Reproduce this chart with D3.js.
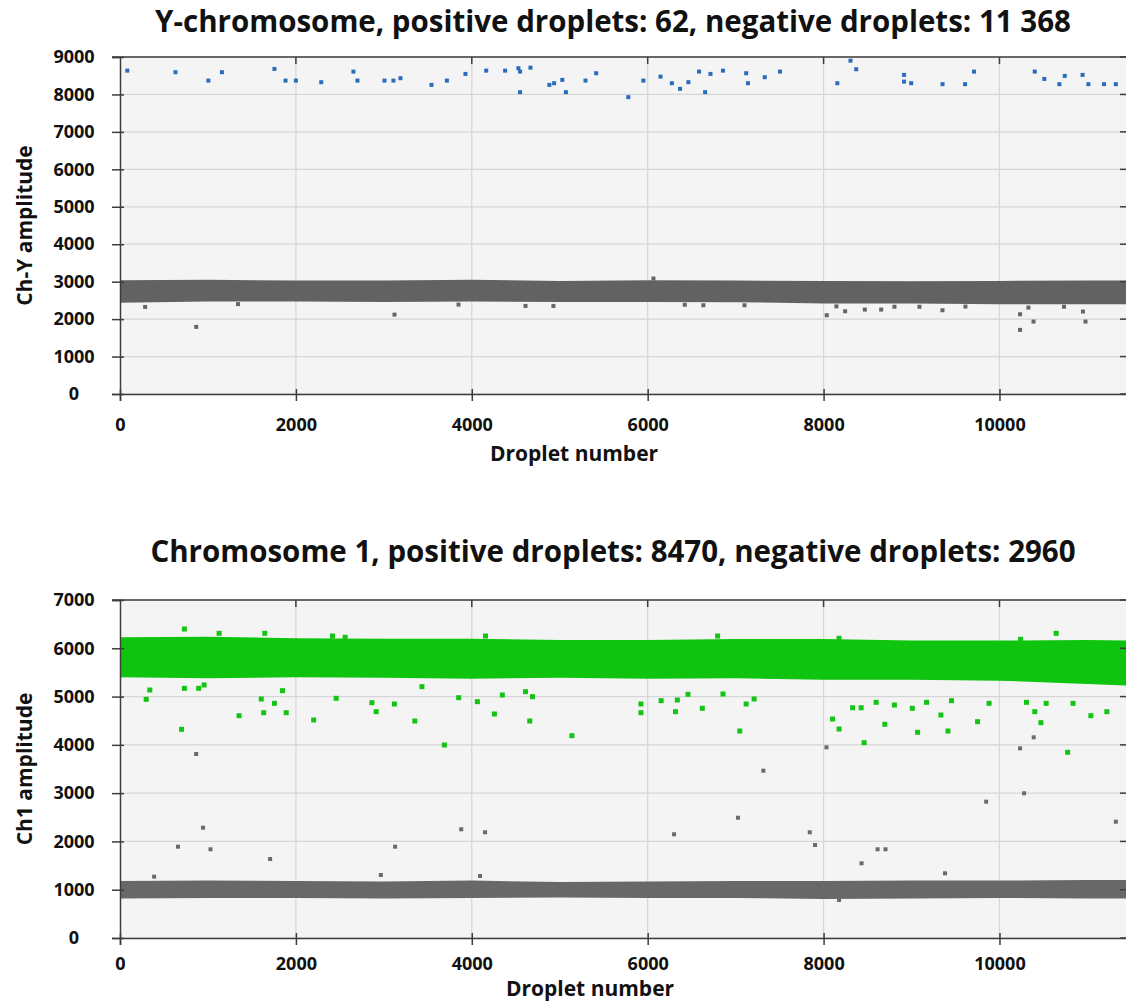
<!DOCTYPE html>
<html>
<head>
<meta charset="utf-8">
<script src="https://cdn.jsdelivr.net/npm/d3@7"></script>
<style>
  body { margin: 0; background: #fff; }
  text { font-family: "Open Sans", sans-serif; font-weight: 700; fill: #111; }
</style>
</head>
<body>
<div id="vis"></div>
<script>
// ---- data ----
const dropletMax = 11450;
const xTicks = [0, 2000, 4000, 6000, 8000, 10000];

// Ch-Y panel
const chYTitle = "Y-chromosome, positive droplets: 62, negative droplets: 11 368";
const chYTicks = [0, 1000, 2000, 3000, 4000, 5000, 6000, 7000, 8000, 9000];
// positive droplets [droplet, amplitude]
const chYPositive = [
  [83, 8636], [631, 8594], [1005, 8370], [1159, 8594], [1756, 8681], [1882, 8370],
  [2000, 8370], [2288, 8327], [2654, 8610], [2700, 8370], [3007, 8370], [3109, 8370],
  [3189, 8434], [3542, 8255], [3717, 8370], [3928, 8548], [4164, 8636], [4379, 8636],
  [4530, 8700], [4549, 8610], [4667, 8716], [4549, 8061], [4882, 8255], [4936, 8300],
  [5029, 8389], [5070, 8061], [5293, 8370], [5414, 8567], [5780, 7928], [5951, 8370],
  [6146, 8476], [6275, 8300], [6368, 8149], [6463, 8327], [6584, 8610], [6653, 8061],
  [6714, 8548], [6856, 8636], [7120, 8567], [7140, 8300], [7331, 8460], [7505, 8610],
  [8156, 8300], [8306, 8902], [8371, 8673], [8915, 8522], [8915, 8343], [8996, 8300],
  [9352, 8274], [9609, 8274], [9711, 8610], [10401, 8610], [10510, 8415], [10681, 8274],
  [10742, 8495], [10945, 8522], [11011, 8274], [11189, 8274], [11323, 8274]
];
// dense negative cluster: envelope
const chYBandX  = [0, 1000, 2000, 3000, 4000, 5000, 6000, 7000, 8000, 9000, 10000, 11000, 11450];
const chYBandHi = [3040, 3050, 3030, 3030, 3050, 3020, 3040, 3030, 3020, 3010, 3020, 3030, 3030];
const chYBandLo = [2440, 2470, 2470, 2460, 2470, 2460, 2460, 2450, 2420, 2420, 2400, 2400, 2400];
// negative droplets outside the dense cluster
const chYNegative = [
  [286, 2325], [867, 1792], [1342, 2400], [3121, 2120], [3849, 2388], [4611, 2352],
  [4928, 2352], [6065, 3084], [6422, 2383], [6633, 2370], [7101, 2370], [8036, 2104],
  [8146, 2340], [8245, 2210], [8469, 2255], [8655, 2255], [8806, 2330], [9090, 2330],
  [9352, 2237], [9613, 2335], [10234, 2130], [10234, 1712], [10387, 1935], [10329, 2308],
  [10978, 1935], [10949, 2202], [10734, 2330]
];

// Ch1 panel
const ch1Title = "Chromosome 1, positive droplets: 8470, negative droplets: 2960";
const ch1Ticks = [0, 1000, 2000, 3000, 4000, 5000, 6000, 7000];
const ch1BandX  = [0, 1000, 2000, 3000, 4000, 5000, 6000, 7000, 8000, 9000, 10000, 11000, 11450];
const ch1PosHi  = [6230, 6240, 6210, 6200, 6200, 6170, 6170, 6190, 6190, 6160, 6160, 6170, 6160];
const ch1PosLo  = [5400, 5380, 5400, 5390, 5370, 5390, 5370, 5380, 5350, 5350, 5330, 5260, 5230];
const ch1NegHi  = [1180, 1190, 1180, 1170, 1190, 1160, 1170, 1180, 1180, 1190, 1190, 1200, 1200];
const ch1NegLo  = [820, 830, 830, 820, 830, 840, 830, 830, 810, 820, 830, 820, 820];
const ch1Positive = [
  [298, 4943], [339, 5136], [732, 5171], [700, 4322], [732, 6399], [895, 5171],
  [956, 5240], [1127, 6310], [1354, 4604], [1606, 4950], [1634, 4666], [1756, 4860],
  [1890, 4666], [1848, 5122], [1646, 6310], [2202, 4515], [2458, 4964], [2416, 6254],
  [2560, 6228], [2864, 4873], [2913, 4687], [3120, 4846], [3352, 4494], [3688, 3997],
  [3851, 4977], [4063, 4894], [4156, 6254], [4257, 4639], [4347, 5032], [4659, 4494],
  [4611, 5101], [4690, 4998], [3433, 5205], [5138, 4190], [5923, 4846], [5923, 4666],
  [6153, 4915], [6316, 4687], [6337, 4929], [6458, 5047], [6621, 4757], [6795, 6254],
  [6856, 5053], [7047, 4287], [7120, 4846], [7210, 4950], [7270, 6136], [8102, 4535],
  [8176, 4328], [8176, 6207], [8330, 4769], [8427, 4769], [8598, 4881], [8461, 4045],
  [8696, 4426], [8805, 4825], [9009, 4757], [9069, 4260], [9171, 4881], [9334, 4618],
  [9414, 4287], [9455, 4915], [9751, 4480], [9882, 4860], [10239, 6186], [10401, 4687],
  [10471, 4459], [10645, 6310], [10775, 3846], [10836, 4860], [11039, 4604], [11221, 4687],
  [10531, 4860], [10307, 4881]
];
const ch1Negative = [
  [866, 3811], [8033, 3949], [7315, 3465], [10389, 4156], [10234, 3928],
  [659, 1891], [944, 2284], [1029, 1837], [1707, 1636], [3128, 1891], [3880, 2251],
  [4151, 2189], [2966, 1305], [4094, 1284], [388, 1270], [6300, 2148], [7027, 2491],
  [7843, 2189], [7903, 1926], [8432, 1547], [8614, 1837], [8704, 1837], [9381, 1340],
  [9849, 2823], [10280, 2997], [11323, 2409], [8176, 787]
];

// ---- layout ----
const W = 1126, H = 1003;
const plotLeft = 120, plotRight = 1127;

const svg = d3.select("#vis").append("svg")
  .attr("width", W).attr("height", H)
  .style("display", "block");

const x = d3.scaleLinear().domain([0, dropletMax]).range([plotLeft, plotRight]);

function drawPanel(cfg) {
  const y = d3.scaleLinear().domain([0, d3.max(cfg.yTicks)]).range([cfg.bottom, cfg.top]);
  const g = svg.append("g");

  g.append("clipPath").attr("id", cfg.id + "-clip")
    .append("rect")
    .attr("x", plotLeft).attr("y", cfg.top)
    .attr("width", plotRight - plotLeft).attr("height", cfg.bottom - cfg.top);

  // background
  g.append("rect")
    .attr("x", plotLeft).attr("y", cfg.top)
    .attr("width", plotRight - plotLeft).attr("height", cfg.bottom - cfg.top)
    .attr("fill", "#f4f4f4");

  // grid
  g.append("g").selectAll("line").data(cfg.yTicks).join("line")
    .attr("x1", plotLeft).attr("x2", plotRight)
    .attr("y1", d => y(d)).attr("y2", d => y(d))
    .attr("stroke", "#d6d6d6").attr("stroke-width", 1.2);
  g.append("g").selectAll("line").data(xTicks.slice(1)).join("line")
    .attr("x1", d => x(d)).attr("x2", d => x(d))
    .attr("y1", cfg.top).attr("y2", cfg.bottom)
    .attr("stroke", "#d6d6d6").attr("stroke-width", 1.2);

  const marks = g.append("g").attr("clip-path", `url(#${cfg.id}-clip)`);

  // dense clusters drawn as envelopes
  cfg.bands.forEach(b => {
    const area = d3.area()
      .x((d, i) => x(b.xs[i]))
      .y0((d, i) => y(b.lo[i]))
      .y1((d, i) => y(b.hi[i]));
    marks.append("path")
      .attr("d", area(b.xs))
      .attr("fill", b.color);
  });

  // scattered droplets
  cfg.points.forEach(p => {
    marks.append("g").selectAll("rect").data(p.data).join("rect")
      .attr("x", d => x(d[0]) - p.size / 2)
      .attr("y", d => y(d[1]) - p.size / 2)
      .attr("width", p.size).attr("height", p.size)
      .attr("fill", p.color);
  });

  // axes
  const axisColor = "#3c3c3c";
  const yAxis = g.append("g")
    .attr("transform", `translate(${plotLeft},0)`)
    .call(d3.axisLeft(y).tickValues(cfg.yTicks).tickSize(8).tickPadding(0).tickFormat(d3.format("d")));
  yAxis.select(".domain").attr("stroke", axisColor).attr("stroke-width", 1.5);
  yAxis.selectAll(".tick line").attr("x1", 4).attr("stroke", axisColor).attr("stroke-width", 1.5);
  yAxis.selectAll(".tick text")
    .attr("x", 74 - plotLeft).attr("text-anchor", "middle")
    .style("font-size", "18px");

  const xAxis = g.append("g")
    .attr("transform", `translate(0,${cfg.bottom})`)
    .call(d3.axisBottom(x).tickValues(xTicks).tickSize(7).tickPadding(cfg.xTickPad).tickFormat(d3.format("d")));
  xAxis.select(".domain").attr("stroke", axisColor).attr("stroke-width", 1.5);
  xAxis.selectAll(".tick line").attr("y1", -5).attr("stroke", axisColor).attr("stroke-width", 1.5);
  xAxis.selectAll(".tick text").style("font-size", "18px");

  // top border with inward ticks
  g.append("line")
    .attr("x1", plotLeft - 8).attr("x2", plotRight)
    .attr("y1", cfg.top).attr("y2", cfg.top)
    .attr("stroke", axisColor).attr("stroke-width", 1.5);
  g.append("g").selectAll("line").data(xTicks.slice(1)).join("line")
    .attr("x1", d => x(d)).attr("x2", d => x(d))
    .attr("y1", cfg.top).attr("y2", cfg.top + 7)
    .attr("stroke", axisColor).attr("stroke-width", 1.5);
  // right side ticks
  g.append("g").selectAll("line").data(cfg.yTicks).join("line")
    .attr("x1", plotRight - 7).attr("x2", plotRight)
    .attr("y1", d => y(d)).attr("y2", d => y(d))
    .attr("stroke", axisColor).attr("stroke-width", 1.5);

  g.selectAll(".domain").attr("fill", "none");

  // titles
  g.append("text")
    .attr("x", 613).attr("y", cfg.titleY)
    .attr("text-anchor", "middle")
    .style("font-size", "29.5px")
    .text(cfg.title);

  g.append("text")
    .attr("x", cfg.xLabelX).attr("y", cfg.xLabelY)
    .attr("text-anchor", "middle")
    .style("font-size", "21px")
    .text("Droplet number");

  g.append("text")
    .attr("transform", `translate(32,${(cfg.top + cfg.bottom) / 2}) rotate(-90)`)
    .attr("text-anchor", "middle")
    .style("font-size", "21px")
    .text(cfg.yLabel);
}

drawPanel({
  id: "chy", top: 57, bottom: 394, yTicks: chYTicks,
  title: chYTitle, titleY: 32, yLabel: "Ch-Y amplitude",
  xLabelX: 574, xLabelY: 461, xTickPad: 17,
  bands: [{ xs: chYBandX, hi: chYBandHi, lo: chYBandLo, color: "#626262" }],
  points: [
    { data: chYNegative, color: "#666666", size: 4 },
    { data: chYPositive, color: "#2a6cbc", size: 4 }
  ]
});

drawPanel({
  id: "ch1", top: 600, bottom: 938, yTicks: ch1Ticks,
  title: ch1Title, titleY: 562, yLabel: "Ch1 amplitude",
  xLabelX: 590, xLabelY: 996, xTickPad: 12,
  bands: [
    { xs: ch1BandX, hi: ch1NegHi, lo: ch1NegLo, color: "#686868" },
    { xs: ch1BandX, hi: ch1PosHi, lo: ch1PosLo, color: "#0ec40e" }
  ],
  points: [
    { data: ch1Negative, color: "#6a6a6a", size: 4 },
    { data: ch1Positive, color: "#14c414", size: 5 }
  ]
});
</script>
</body>
</html>
